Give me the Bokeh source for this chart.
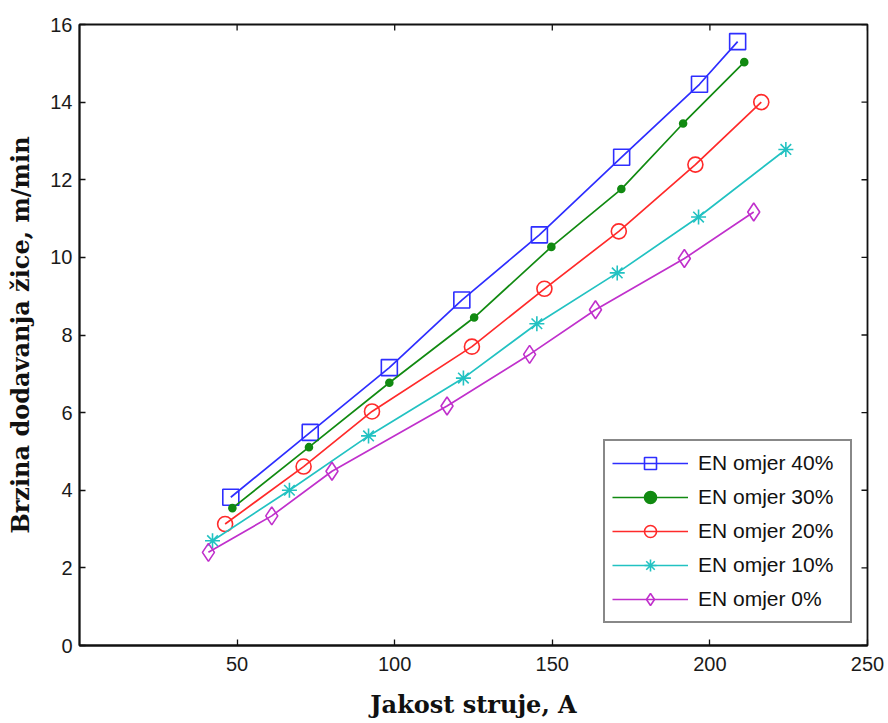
import math
from bokeh.plotting import figure
from bokeh.models import FixedTicker, Range1d, Legend, LegendItem
from bokeh.embed import file_html
from bokeh.resources import INLINE

# Data (current in A, wire feed speed in m/min)
x40 = [48.0, 73.2, 98.3, 121.3, 145.9, 172.0, 196.7, 208.8]
y40 = [3.82, 5.49, 7.16, 8.90, 10.58, 12.58, 14.46, 15.56]
x30 = [48.5, 72.8, 98.3, 125.2, 149.7, 171.9, 191.5, 210.9]
y30 = [3.54, 5.11, 6.77, 8.45, 10.27, 11.76, 13.45, 15.03]
x20 = [46.2, 71.1, 92.8, 124.5, 147.5, 171.1, 195.4, 216.3]
y20 = [3.13, 4.61, 6.03, 7.70, 9.19, 10.67, 12.39, 14.00]
x10 = [42.2, 66.6, 91.7, 121.8, 145.1, 170.6, 196.4, 224.1]
y10 = [2.70, 4.00, 5.40, 6.89, 8.29, 9.60, 11.04, 12.78]
x0 = [40.9, 61.0, 80.1, 116.6, 142.8, 163.7, 191.9, 213.9]
y0 = [2.40, 3.34, 4.49, 6.17, 7.50, 8.65, 9.97, 11.17]

labels = ["EN omjer 40%", "EN omjer 30%", "EN omjer 20%", "EN omjer 10%", "EN omjer 0%"]
x_ticks = [50, 100, 150, 200, 250]
y_ticks = [0, 2, 4, 6, 8, 10, 12, 14, 16]
x_title = "Jakost struje, A"
y_title = "Brzina dodavanja žice, m/min"

p = figure(width=888, height=723, x_range=Range1d(0, 250), y_range=Range1d(0, 16),
           output_backend="svg", toolbar_location=None,
           min_border_left=79, min_border_right=21, min_border_top=24, min_border_bottom=78)
p.background_fill_color = "white"
p.border_fill_color = "white"
p.outline_line_color = "#111111"
p.outline_line_width = 1.8
p.xgrid.visible = False
p.ygrid.visible = False

TICK_FONT = "Liberation Sans"
TITLE_FONT = "DejaVu Serif"
INK = "#111111"

xa = p.xaxis[0]
ya = p.yaxis[0]
xa.ticker = FixedTicker(ticks=x_ticks)
ya.ticker = FixedTicker(ticks=y_ticks)
for ax in (xa, ya):
    ax.major_tick_in = 6
    ax.major_tick_out = 0
    ax.minor_tick_line_color = None
    ax.major_tick_line_color = INK
    ax.major_tick_line_width = 1.3
    ax.axis_line_color = INK
    ax.axis_line_width = 1.8
    ax.major_label_text_font = TICK_FONT
    ax.major_label_text_color = "#1a1a1a"
    ax.major_label_text_font_size = "20px"
    ax.axis_label_text_font = TITLE_FONT
    ax.axis_label_text_font_style = "bold"
    ax.axis_label_text_font_size = "24px"
    ax.axis_label_text_color = INK
xa.major_label_standoff = 11
ya.major_label_standoff = 7
xa.axis_label = x_title
ya.axis_label = y_title
xa.axis_label_standoff = 16
ya.axis_label_standoff = 12

# inward tick marks on the top and right edges of the box
p.ray(x=x_ticks, y=[y_ticks[-1]] * len(x_ticks), length=6, length_units="screen",
      angle=-math.pi / 2, line_color=INK, line_width=1.3)
p.ray(x=[x_ticks[-1]] * len(y_ticks), y=y_ticks, length=6, length_units="screen",
      angle=math.pi, line_color=INK, line_width=1.3)

series = [
    (x40, y40, "#2e2eff", "square", 16, False),
    (x30, y30, "#118a11", "circle", 7, True),
    (x20, y20, "#ff2a2a", "circle", 15, False),
    (x10, y10, "#22c2c2", "asterisk", 15, False),
    (x0, y0, "#c030cc", "diamond", 18, False),
]

items = []
for (xs, ys, col, mk, sz, filled), lab in zip(series, labels):
    r1 = p.line(xs, ys, line_color=col, line_width=1.7)
    r2 = p.scatter(xs, ys, marker=mk, size=sz, line_color=col, line_width=1.6,
                   fill_color=col if filled else None)
    items.append(LegendItem(label=lab, renderers=[r1, r2]))

legend = Legend(items=items, location=(524, 22))
legend.border_line_color = INK
legend.border_line_width = 2
legend.background_fill_color = "white"
legend.background_fill_alpha = 1
legend.label_text_font = TICK_FONT
legend.label_text_font_size = "21px"
legend.label_text_color = INK
legend.glyph_width = 76
legend.glyph_height = 30
legend.label_height = 30
legend.label_width = 145
legend.label_standoff = 10
legend.padding = 7
legend.spacing = 4
legend.margin = 0
p.add_layout(legend, "center")

open("out.html", "w").write(file_html(p, INLINE))
